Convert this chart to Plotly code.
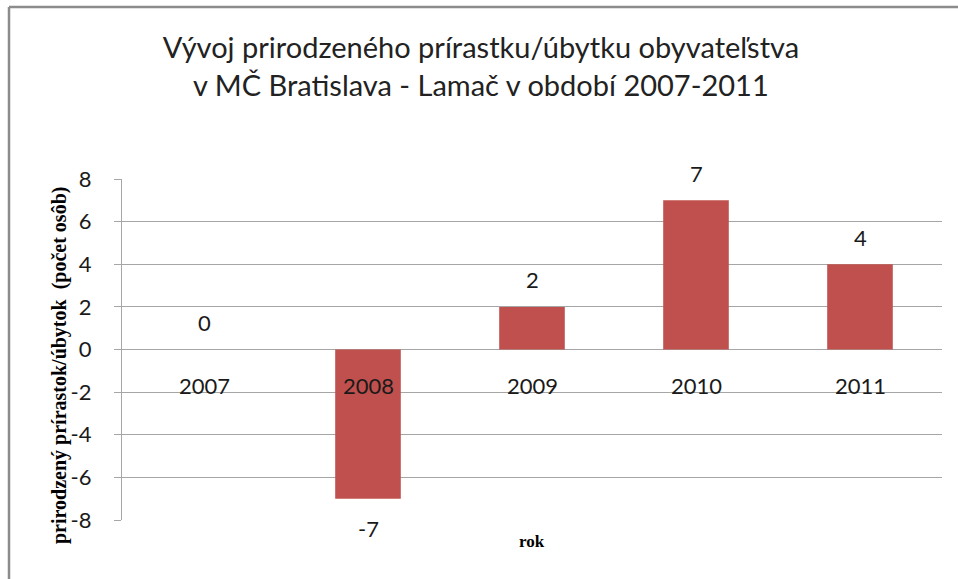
import plotly.graph_objects as go

years = ["2007", "2008", "2009", "2010", "2011"]
values = [0, -7, 2, 7, 4]
y_ticks = [-8, -6, -4, -2, 0, 2, 4, 6, 8]

title_lines = ["Vývoj prirodzeného prírastku/úbytku obyvateľstva",
               "v MČ Bratislava - Lamač v období 2007-2011"]
y_title = "prirodzený prírastok/úbytok  (počet osôb)"
x_title = "rok"

BAR = "#C0504D"
GRID = "#A6A6A6"
FONT = "Lato"

xpos = [int(y) for y in years]

fig = go.Figure()
fig.add_trace(go.Bar(x=xpos, y=values, marker=dict(color=BAR, line=dict(width=0)),
                     width=0.4, hoverinfo="x+y"))

annotations = []
# data labels
for xp, v in zip(xpos, values):
    annotations.append(dict(x=xp, y=v, xref="x", yref="y", text=str(v), showarrow=False,
                            yanchor="middle", yshift=(-30 if v < 0 else 27),
                            font=dict(family=FONT, size=22, color="#1a1a1a")))
# category labels at the zero line
for xp, yr in zip(xpos, years):
    annotations.append(dict(x=xp, y=0, xref="x", yref="y", text=yr, showarrow=False,
                            yanchor="middle", yshift=-36,
                            font=dict(family=FONT, size=22, color="#1a1a1a")))
# axis titles
annotations.append(dict(x=0.5, y=0, xref="paper", yref="paper", text=f"<b>{x_title}</b>",
                        showarrow=False, yanchor="middle", yshift=-21,
                        font=dict(family="Liberation Serif", size=17, color="#000")))
annotations.append(dict(x=(59 - 122) / 820, y=(520 - 366) / 341, xref="paper", yref="paper",
                        text=f"<b>{y_title}</b>",
                        showarrow=False, textangle=-90, xanchor="center", yanchor="middle",
                        font=dict(family="Liberation Serif", size=20, color="#000")))

frame_x = (9 - 122) / 820
frame_y = (520 - 7) / 341

fig.update_layout(
    width=958, height=579,
    margin=dict(l=122, r=16, t=179, b=59),
    paper_bgcolor="white", plot_bgcolor="white",
    showlegend=False,
    title=dict(text="<br>".join(title_lines), x=0.502, xanchor="center",
               yref="container", y=1 - 58 / 579, yanchor="middle",
               font=dict(family=FONT, size=29, color="#222")),
    annotations=annotations,
    xaxis=dict(range=[xpos[0] - 0.5, xpos[-1] + 0.5], showticklabels=False, showgrid=False,
               zeroline=False, showline=False, ticks="", fixedrange=True),
    yaxis=dict(range=[-8, 8], tickvals=y_ticks, ticktext=[str(t) for t in y_ticks],
               showgrid=True, gridcolor=GRID, gridwidth=1.3, zeroline=False,
               showline=True, linecolor=GRID, linewidth=1.3,
               ticks="outside", ticklen=7, tickcolor=GRID, tickwidth=1.3,
               ticklabelstandoff=18,
               tickfont=dict(family=FONT, size=22, color="#1a1a1a"), fixedrange=True),
    shapes=[
        dict(type="line", xref="paper", yref="paper", x0=frame_x, x1=1.1, y0=frame_y, y1=frame_y,
             line=dict(color="#8C8C8C", width=2.5), layer="below"),
        dict(type="line", xref="paper", yref="paper", x0=frame_x, x1=frame_x, y0=-0.3, y1=frame_y,
             line=dict(color="#8C8C8C", width=2.5), layer="below"),
    ],
)

fig.write_html("out.html", config={"displayModeBar": False},
               post_script="document.body.style.margin='0';")
